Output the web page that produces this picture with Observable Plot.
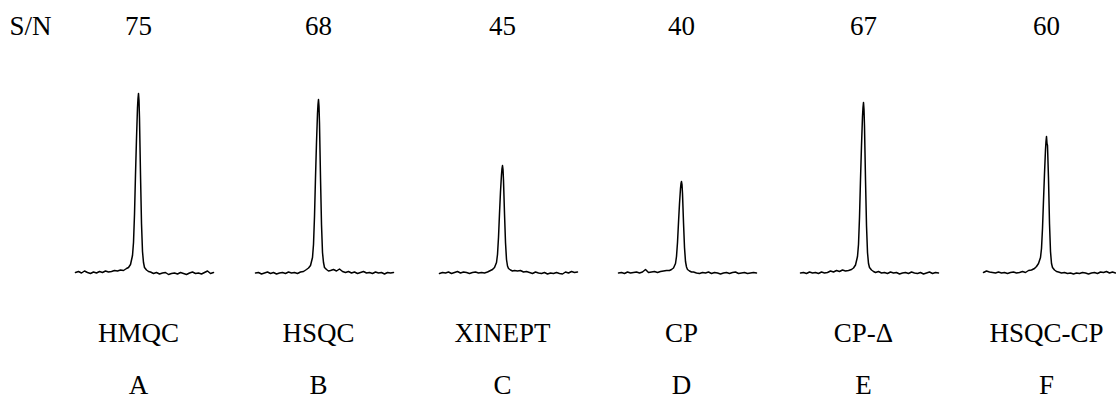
<!DOCTYPE html>
<html>
<head>
<meta charset="utf-8">
<script src="https://cdn.jsdelivr.net/npm/d3@7"></script>
<script src="https://cdn.jsdelivr.net/npm/@observablehq/plot@0.6"></script>
<style>
  html, body { margin: 0; padding: 0; background: #fff; overflow: hidden; font-family: "Liberation Serif", "Times New Roman", Times, Tinos, FreeSerif, "Noto Serif", serif; }
  #chart svg { display: block; background: #fff; }
  #chart svg text { font-family: "Liberation Serif", "Times New Roman", Times, Tinos, FreeSerif, "Noto Serif", serif; }
</style>
</head>
<body>
<div id="chart"></div>
<script>
// Panels, method names and signal-to-noise ratios
const panels = ["A", "B", "C", "D", "E", "F"];
const methods = ["HMQC", "HSQC", "XINEPT", "CP", "CP-Δ", "HSQC-CP"];
const snr = [75, 68, 45, 40, 67, 60];
// peak position inside each panel (spectral units across the panel, 0..137)
const peakShift = [63, 61, 63, 60, 60, 61];

// spectral offsets from the peak, shared by all spectra
const offset = [
  -63, -60, -57, -54, -51, -48, -45, -42, -39, -36, -33, -30, -27, -24, -21, -18, -15, -12,
  -10, -8, -6, -5, -4, -3, -2, -1, -0.5, 0, 0.5, 1, 2, 3, 4, 5, 6, 8, 10,
  12, 15, 18, 21, 24, 27, 30, 33, 36, 39, 42, 45, 48, 51, 54, 57, 60, 63, 66, 69, 72, 75
];

// intensities (same order as offset)
const intA = [
  1, 2, 0.5, 2.5, 1, 0, 1.5, 0.5, 2, 1, 2.5, 1.5, 2, 3, 2.5, 3.5, 3, 5,
  6, 9, 18, 31, 59, 99, 135, 166, 175, 180, 173, 155, 99, 50, 22, 11, 6, 3.5, 2,
  1.5, 0, 1, -0.5, 0.5, 1, -1, 0, 0.5, -0.5, 1, 0, -1, 0.5, 1.5, 0, 0.5, -0.5, 1, 2.5, 0, 1
];
const intB = [
  0.5, 1, -0.5, 0.5, 1.5, 0, 1, -0.5, 0.5, 1, 0, 1.5, 0.5, 1, 0, 1.5, 2, 4,
  5.5, 8, 16, 29, 57, 96, 131, 160, 169, 174, 167, 150, 96, 49, 21, 11, 6, 4, 2.5,
  3, 4, 2.5, 4.5, 2, 1, 2, 0.5, 1.5, 0, 1, 2, 0.5, 1, 0, 1.5, 0.5, 1, -0.5, 1, 0.5, 1
];
const intC = [
  0, 1, 0.5, 1.5, 0, 1, 2, 0.5, 1.5, 1, 0, 1, 1.5, 0.5, 1, 0.5, 1.5, 3,
  4, 6, 11, 19, 36, 60, 82, 99, 105, 108, 104, 93, 60, 31, 14, 7.5, 5, 3.5, 2.5,
  3, 2.5, 3, 1.5, 2, 1, 0, 1.5, 0.5, 0, 1, -0.5, 0.5, 0, 1, 0, -0.5, 1.5, 0.5, 2, 1, 1.5
];
const intD = [
  0.5, 1, 0, 1.5, 0.5, 1, 1.5, 0.5, 1.5, 4, 1, 1.5, 2, 1, 2, 2.5, 3, 3,
  4, 5.5, 10, 17, 31, 51, 70, 85, 90, 92, 89, 80, 51, 26, 12, 6.5, 4, 2.5, 1.5,
  1.5, 0.5, 0, 1, 0.5, 1.5, 0, 1, 0.5, -0.5, 0.5, 1, 0, 1, 1.5, 0, 0.5, 1, 0, 0.5, 1, 0.5
];
const intE = [
  0.5, 1, 0, 1.5, 0.5, 1, 0, 1.5, 0.5, 1, 2.5, 1.5, 3, 2, 3.5, 2.5, 3, 4,
  5.5, 8.5, 17, 29, 56, 94, 128, 157, 166, 171, 164, 147, 94, 48, 21, 10, 6, 3.5, 2,
  1, 2, 0.5, 1, 0, 1.5, 0.5, 1, -0.5, 0.5, 1, 0, 1.5, 0.5, 0, 1, -0.5, 0.5, 1.5, 0, 1, 0.5
];
const intF = [
  1, 2.5, 1.5, 1, 0.5, 1.5, 0.5, 1, 0, 1, 1.5, 0.5, 1, 2, 1, 3, 3.5, 5,
  7, 10, 16, 25, 45, 73, 100, 124, 132, 137, 130, 128, 95, 50, 22, 10, 6, 3.5, 2,
  1.5, 0.5, 1, 0, 0.5, -0.5, 0.5, 0, 1, 0.5, -0.5, 0.5, 1, 0, 1.5, 1, 2, 0.5, 1.5, 0.5
];

const spectra = [intA, intB, intC, intD, intE, intF];

const rows = [];
panels.forEach((p, i) => {
  spectra[i].forEach((v, j) => {
    rows.push({ panel: p, shift: peakShift[i] + offset[j], intensity: v });
  });
});

const labels = panels.map((p, i) => ({ panel: p, method: methods[i], snr: String(snr[i]), peak: peakShift[i] }));

const font = '"Liberation Serif", "Times New Roman", Times, Tinos, FreeSerif, "Noto Serif", serif';

const chart = Plot.plot({
  width: 1116,
  height: 410,
  marginLeft: 75,
  marginRight: -6,
  marginTop: 73,
  marginBottom: 137,
  fx: { domain: panels, paddingInner: 45 / 182, paddingOuter: 0, axis: null, label: null },
  x: { domain: [0, 137], axis: null },
  y: { domain: [0, 200], axis: null },
  marks: [
    Plot.line(rows, {
      fx: "panel", x: "shift", y: "intensity",
      stroke: "#000", strokeWidth: 1.5, strokeLinejoin: "round", strokeLinecap: "round"
    }),
    Plot.text(labels, {
      fx: "panel", x: "peak", text: "snr", frameAnchor: "top", dy: -47,
      lineAnchor: "middle", fontSize: 27, fontFamily: font
    }),
    Plot.text(labels, {
      fx: "panel", x: "peak", text: "method", frameAnchor: "bottom", dy: 60,
      lineAnchor: "middle", fontSize: 27, fontFamily: font
    }),
    Plot.text(labels, {
      fx: "panel", x: "peak", text: "panel", frameAnchor: "bottom", dy: 112,
      lineAnchor: "middle", fontSize: 27, fontFamily: font
    }),
    Plot.text([{ panel: "A" }], {
      fx: "panel", text: () => "S/N", frameAnchor: "top-left", dx: -45, dy: -47,
      textAnchor: "middle", lineAnchor: "middle", fontSize: 27, fontFamily: font
    })
  ]
});

document.getElementById("chart").appendChild(chart);
</script>
</body>
</html>
